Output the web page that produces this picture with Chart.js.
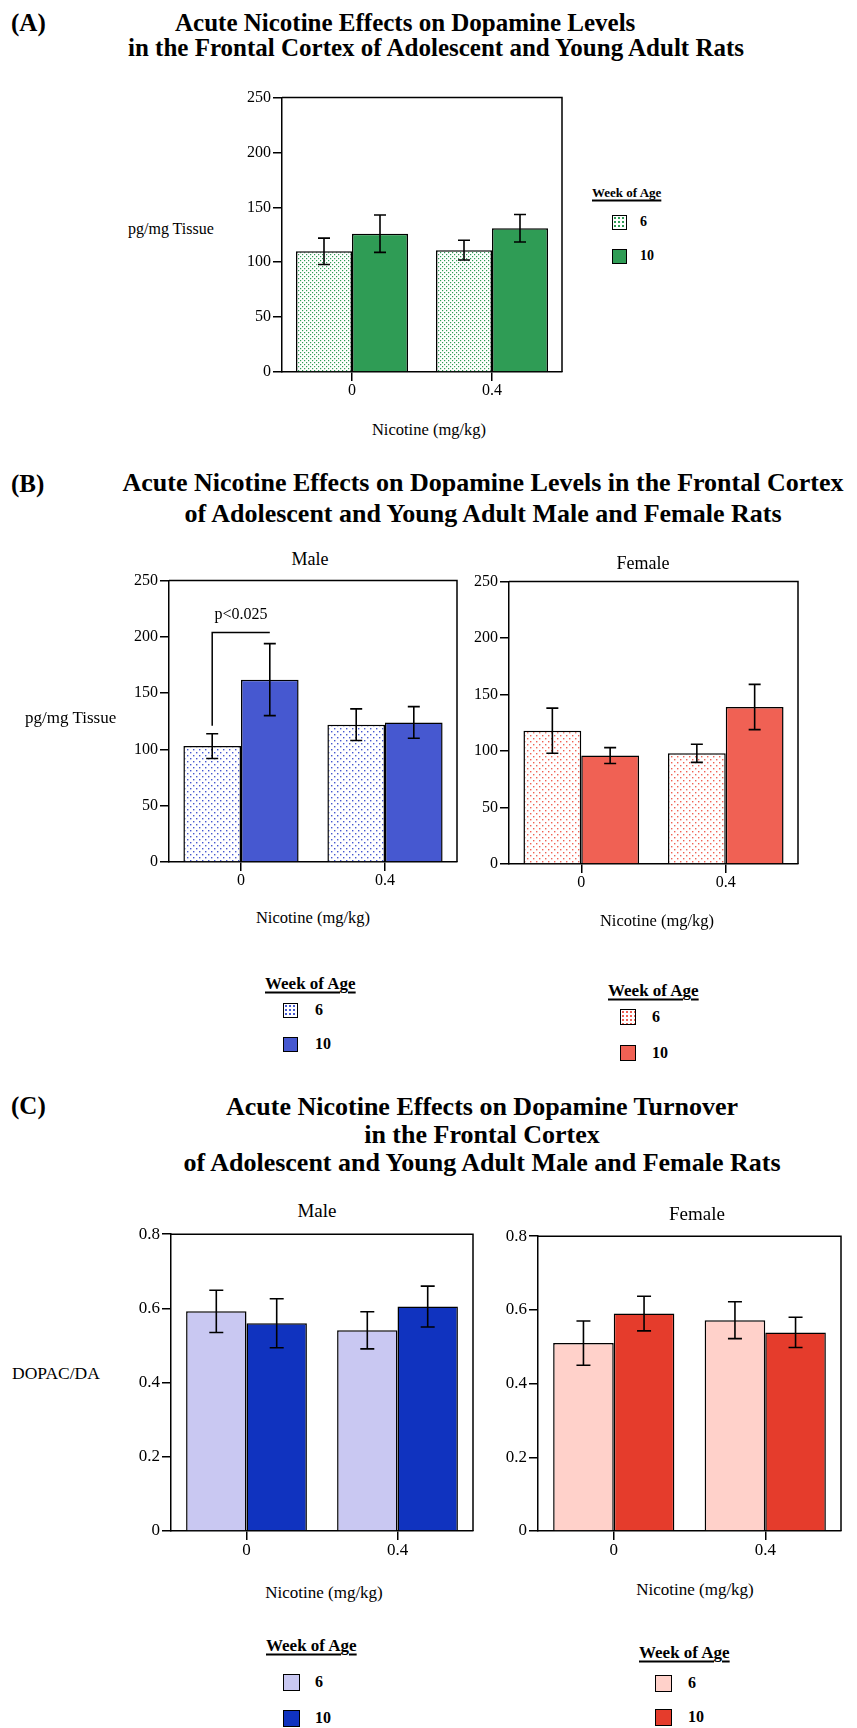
<!DOCTYPE html>
<html>
<head>
<meta charset="utf-8">
<script src="https://cdn.jsdelivr.net/npm/chart.js@4.4.1/dist/chart.umd.min.js"></script>
<style>
  html, body { margin: 0; padding: 0; background: #fff; }
  #page { position: relative; width: 857px; height: 1728px; overflow: hidden; background: #fff; font-family: 'Liberation Serif', 'Times New Roman', serif; color: #000; }
  #page canvas { position: absolute; }
  .t { position: absolute; white-space: nowrap; line-height: 1; }
  .head { font-weight: bold; font-size: 25px; }
  .legt { font-weight: bold; text-decoration: underline; text-decoration-thickness: 1.5px; text-underline-offset: 3px; }
  .sw { position: absolute; box-sizing: border-box; border: 1.5px solid #000; }
</style>
</head>
<body>
<div id="page"></div>
<script>
// ---- data ----
const doses = ['0', '0.4'];
const ageGroups = ['6', '10'];

// (A) dopamine, pg/mg tissue
const daAll6 = [110, 111];
const daAll6Err = [12, 9];
const daAll10 = [126, 131];
const daAll10Err = [17, 12.5];

// (B) dopamine by sex
const daMale6 = [103, 122];
const daMale6Err = [11, 14];
const daMale10 = [162, 124];
const daMale10Err = [32, 14];
const daFemale6 = [118, 98];
const daFemale6Err = [20, 8];
const daFemale10 = [96, 139];
const daFemale10Err = [7, 20];

// (C) DOPAC/DA turnover by sex
const toMale6 = [0.592, 0.541];
const toMale6Err = [0.057, 0.05];
const toMale10 = [0.56, 0.605];
const toMale10Err = [0.066, 0.055];
const toFemale6 = [0.51, 0.572];
const toFemale6Err = [0.06, 0.05];
const toFemale10 = [0.59, 0.539];
const toFemale10Err = [0.047, 0.041];

const levelTicks = ['0', '50', '100', '150', '200', '250'];
const turnoverTicks = ['0', '0.2', '0.4', '0.6', '0.8'];

// significance bracket (male, dose 0): leg bottom, bracket top
const sigBracket = [121, 204];
const sigLabel = 'p<0.025';

// ---- helpers ----
const page = document.getElementById('page');
const SERIF = "'Liberation Serif', 'Times New Roman', serif";

function text(str, x, y, opts = {}) {
    const d = document.createElement('div');
    d.className = 't ' + (opts.cls || '');
    d.textContent = str;
    d.style.left = x + 'px';
    d.style.top = y + 'px';
    if (opts.size) d.style.fontSize = opts.size + 'px';
    if (opts.bold) d.style.fontWeight = 'bold';
    d.style.transform = opts.center ? 'translate(-50%, -50%)' : 'translate(0, -50%)';
    page.appendChild(d);
    return d;
}

function swatch(x, y, size, bg) {
    const s = document.createElement('div');
    s.className = 'sw';
    s.style.left = x + 'px';
    s.style.top = (y - size / 2) + 'px';
    s.style.width = size + 'px';
    s.style.height = size + 'px';
    s.style.background = bg;
    page.appendChild(s);
}

function dotted(color) {
    return 'radial-gradient(circle, ' + color + ' 0.9px, transparent 1.1px) 0 0 / 4px 4px, #fff';
}

function dotPattern(color, step, dot) {
    const c = document.createElement('canvas');
    c.width = step; c.height = step;
    const g = c.getContext('2d');
    g.fillStyle = '#fff';
    g.fillRect(0, 0, step, step);
    g.fillStyle = color;
    g.fillRect(0, 0, dot, dot);
    g.fillRect(step / 2, step / 2, dot, dot);
    return g.createPattern(c, 'repeat');
}

// frame on top and right of the plot
const frame = {
    id: 'frame',
    afterDraw(chart) {
        const { ctx, chartArea: a } = chart;
        ctx.save();
        ctx.strokeStyle = '#000';
        ctx.lineWidth = 1.5;
        ctx.beginPath();
        ctx.moveTo(a.left, a.top);
        ctx.lineTo(a.right, a.top);
        ctx.lineTo(a.right, a.bottom);
        ctx.stroke();
        ctx.restore();
    }
};

// SEM error bars
const errorBars = {
    id: 'errorBars',
    afterDatasetsDraw(chart, args, opts) {
        const { ctx } = chart;
        const y = chart.scales.y;
        const cap = opts.cap || 6;
        ctx.save();
        ctx.strokeStyle = '#000';
        ctx.lineWidth = 1.6;
        chart.data.datasets.forEach((ds, i) => {
            chart.getDatasetMeta(i).data.forEach((bar, j) => {
                const v = ds.data[j], e = ds.errors[j];
                const top = y.getPixelForValue(v + e);
                const bot = y.getPixelForValue(v - e);
                ctx.beginPath();
                ctx.moveTo(bar.x, top); ctx.lineTo(bar.x, bot);
                ctx.moveTo(bar.x - cap, top); ctx.lineTo(bar.x + cap, top);
                ctx.moveTo(bar.x - cap, bot); ctx.lineTo(bar.x + cap, bot);
                ctx.stroke();
            });
        });
        ctx.restore();
    }
};

const PADL = 60, PADT = 6, PADR = 6, PADB = 34;

function makeChart(box, sets, yTicks, fontSize, cap, extra) {
    const [l, t, r, b] = box;
    const cv = document.createElement('canvas');
    cv.width = r - l + PADL + PADR;
    cv.height = b - t + PADT + PADB;
    cv.style.left = (l - PADL) + 'px';
    cv.style.top = (t - PADT) + 'px';
    page.appendChild(cv);
    const font = { family: SERIF, size: fontSize };
    const tickVals = yTicks.map(Number);
    return new Chart(cv.getContext('2d'), {
        type: 'bar',
        data: {
            labels: doses,
            datasets: sets.map(s => ({
                label: s.label,
                data: s.data,
                errors: s.errors,
                backgroundColor: s.fill,
                borderColor: '#000',
                borderWidth: 1.5,
                barPercentage: 1.0,
                categoryPercentage: 0.8
            }))
        },
        options: {
            responsive: false,
            animation: false,
            layout: { padding: { top: PADT, right: PADR, left: 0, bottom: 0 } },
            plugins: {
                legend: { display: false },
                tooltip: { enabled: false },
                errorBars: { cap }
            },
            scales: {
                x: {
                    grid: { offset: false, drawOnChartArea: false, tickLength: 9, color: '#000', lineWidth: 1.5 },
                    border: { color: '#000', width: 1.5 },
                    ticks: { font, color: '#000', padding: 0, maxRotation: 0 },
                    afterFit: s => { s.height = PADB; }
                },
                y: {
                    min: tickVals[0],
                    max: tickVals[tickVals.length - 1],
                    grid: { drawOnChartArea: false, tickLength: 9, color: '#000', lineWidth: 1.5 },
                    border: { color: '#000', width: 1.5 },
                    ticks: { font, color: '#000', padding: 2, callback: (v, i) => yTicks[i] },
                    afterBuildTicks: s => { s.ticks = tickVals.map(v => ({ value: v })); },
                    afterFit: s => { s.width = PADL; }
                }
            }
        },
        plugins: [frame, errorBars].concat(extra || [])
    });
}

// ---- colours ----
const green = '#2f9c55';
const blue = '#4658d0';
const red = '#f06154';
const lilac = '#c9c8f2';
const navy = '#1033bf';
const pink = '#ffd1ca';
const scarlet = '#e53c2c';

// ---- (A) ----
text('(A)', 11, 22, { cls: 'head' });
text('Acute Nicotine Effects on Dopamine Levels', 175, 22, { cls: 'head' });
text('in the Frontal Cortex of Adolescent and Young Adult Rats', 128, 47, { cls: 'head' });

makeChart([282, 92, 562, 372], [
    { label: ageGroups[0], data: daAll6, errors: daAll6Err, fill: dotPattern(green, 4, 1.2) },
    { label: ageGroups[1], data: daAll10, errors: daAll10Err, fill: green }
], levelTicks, 16, 6);

text('pg/mg Tissue', 128, 229, { size: 16 });
text('Nicotine (mg/kg)', 429, 430, { size: 16.5, center: true });
text('Week of Age', 592, 192, { cls: 'legt', size: 13 });
swatch(612, 222, 15, dotted(green));
swatch(612, 256, 15, green);
text(ageGroups[0], 640, 222, { size: 14, bold: true });
text(ageGroups[1], 640, 256, { size: 14, bold: true });

// ---- (B) ----
text('(B)', 11, 483, { cls: 'head' });
text('Acute Nicotine Effects on Dopamine Levels in the Frontal Cortex', 483, 483, { cls: 'head', center: true, size: 26 });
text('of Adolescent and Young Adult Male and Female Rats', 483, 514, { cls: 'head', center: true, size: 26 });

const sig = {
    id: 'sig',
    afterDatasetsDraw(chart) {
        const { ctx } = chart;
        const y = chart.scales.y;
        const x0 = chart.getDatasetMeta(0).data[0].x;
        const x1 = chart.getDatasetMeta(1).data[0].x;
        const yTop = y.getPixelForValue(sigBracket[1]);
        const yLeg = y.getPixelForValue(sigBracket[0]);
        ctx.save();
        ctx.strokeStyle = '#000';
        ctx.lineWidth = 1.5;
        ctx.beginPath();
        ctx.moveTo(x0, yLeg); ctx.lineTo(x0, yTop); ctx.lineTo(x1, yTop);
        ctx.stroke();
        ctx.fillStyle = '#000';
        ctx.font = '16px ' + SERIF;
        ctx.textAlign = 'center';
        ctx.textBaseline = 'bottom';
        ctx.fillText(sigLabel, (x0 + x1) / 2, yTop - 10);
        ctx.restore();
    }
};

makeChart([169, 575, 457, 862], [
    { label: ageGroups[0], data: daMale6, errors: daMale6Err, fill: dotPattern(blue, 6, 1.4) },
    { label: ageGroups[1], data: daMale10, errors: daMale10Err, fill: blue }
], levelTicks, 16, 6, [sig]);

makeChart([509, 576, 798, 864], [
    { label: ageGroups[0], data: daFemale6, errors: daFemale6Err, fill: dotPattern(red, 6, 1.4) },
    { label: ageGroups[1], data: daFemale10, errors: daFemale10Err, fill: red }
], levelTicks, 16, 6);

text('Male', 310, 559, { size: 18, center: true });
text('Female', 643, 563, { size: 18, center: true });
text('pg/mg Tissue', 25, 717, { size: 17 });
text('Nicotine (mg/kg)', 313, 918, { size: 16.5, center: true });
text('Nicotine (mg/kg)', 657, 921, { size: 16.5, center: true });

text('Week of Age', 265, 983, { cls: 'legt', size: 17 });
swatch(283, 1010, 15, dotted(blue));
swatch(283, 1044, 15, blue);
text(ageGroups[0], 315, 1010, { size: 16, bold: true });
text(ageGroups[1], 315, 1044, { size: 16, bold: true });

text('Week of Age', 608, 990, { cls: 'legt', size: 17 });
swatch(620, 1017, 16, dotted(red));
swatch(620, 1053, 16, red);
text(ageGroups[0], 652, 1017, { size: 16, bold: true });
text(ageGroups[1], 652, 1053, { size: 16, bold: true });

// ---- (C) ----
text('(C)', 11, 1105, { cls: 'head' });
text('Acute Nicotine Effects on Dopamine Turnover', 482, 1107, { cls: 'head', center: true, size: 26 });
text('in the Frontal Cortex', 482, 1135, { cls: 'head', center: true, size: 26 });
text('of Adolescent and Young Adult Male and Female Rats', 482, 1163, { cls: 'head', center: true, size: 26 });

makeChart([171, 1228, 473, 1531], [
    { label: ageGroups[0], data: toMale6, errors: toMale6Err, fill: lilac },
    { label: ageGroups[1], data: toMale10, errors: toMale10Err, fill: navy }
], turnoverTicks, 17, 7);

makeChart([538, 1230, 841, 1531], [
    { label: ageGroups[0], data: toFemale6, errors: toFemale6Err, fill: pink },
    { label: ageGroups[1], data: toFemale10, errors: toFemale10Err, fill: scarlet }
], turnoverTicks, 17, 7);

text('Male', 317, 1210, { size: 19, center: true });
text('Female', 697, 1213, { size: 19, center: true });
text('DOPAC/DA', 12, 1374, { size: 17.5 });
text('Nicotine (mg/kg)', 324, 1592, { size: 17, center: true });
text('Nicotine (mg/kg)', 695, 1589, { size: 17, center: true });

text('Week of Age', 266, 1645, { cls: 'legt', size: 17 });
swatch(283, 1682, 17, lilac);
swatch(283, 1718, 17, navy);
text(ageGroups[0], 315, 1682, { size: 16, bold: true });
text(ageGroups[1], 315, 1718, { size: 16, bold: true });

text('Week of Age', 639, 1652, { cls: 'legt', size: 17 });
swatch(655, 1683, 17, pink);
swatch(655, 1717, 17, scarlet);
text(ageGroups[0], 688, 1683, { size: 16, bold: true });
text(ageGroups[1], 688, 1717, { size: 16, bold: true });
</script>
</body>
</html>
